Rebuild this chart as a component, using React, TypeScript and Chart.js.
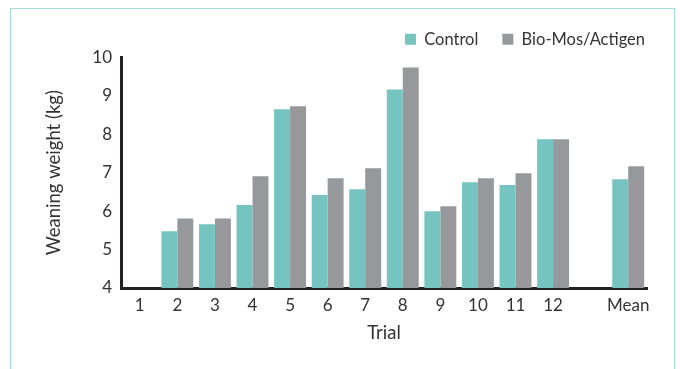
import React, { useEffect, useRef } from "react";
import { Chart, registerables } from "chart.js";

Chart.register(...registerables);

const categories = ["1", "2", "3", "4", "5", "6", "7", "8", "9", "10", "11", "12", "", "Mean"];
const controlValues: (number | null)[] = [null, 5.48, 5.66, 6.16, 8.65, 6.42, 6.57, 9.17, 6.0, 6.75, 6.68, 7.87, null, 6.83];
const bioMosValues: (number | null)[] = [null, 5.81, 5.81, 6.91, 8.73, 6.86, 7.12, 9.74, 6.13, 6.86, 6.99, 7.87, null, 7.17];
const seriesNames = ["Control", "Bio-Mos/Actigen"];
const yTicks = [4, 5, 6, 7, 8, 9, 10];

const FONT = "Lato, 'Noto Sans', sans-serif";
const TEXT = "#333333";

export default function App() {
  const ref = useRef<HTMLCanvasElement | null>(null);

  useEffect(() => {
    if (!ref.current) return;
    const legendShift = {
      id: "legendShift",
      afterLayout(chart: any) {
        if (chart.legend) {
          chart.legend.left += 22;
          chart.legend.right += 22;
        }
      },
    };
    const chart = new Chart(ref.current, {
      type: "bar",
      data: {
        labels: categories,
        datasets: [
          {
            label: seriesNames[0],
            data: controlValues,
            backgroundColor: "#76C4BF",
            categoryPercentage: 0.85,
            barPercentage: 1.0,
          },
          {
            label: seriesNames[1],
            data: bioMosValues,
            backgroundColor: "#97989C",
            categoryPercentage: 0.85,
            barPercentage: 1.0,
          },
        ],
      },
      options: {
        responsive: false,
        animation: false,
        devicePixelRatio: 1,
        layout: { padding: { top: 7, right: 33, left: 0, bottom: 0 } },
        plugins: {
          legend: {
            display: true,
            position: "top",
            align: "end",
            labels: {
              boxWidth: 11,
              boxHeight: 11,
              padding: 24,
              color: TEXT,
              font: { family: FONT, size: 16.5 },
            },
          },
          tooltip: { enabled: false },
        },
        scales: {
          x: {
            grid: { display: false, drawTicks: false },
            border: { display: true, color: "#231F20", width: 3 },
            ticks: {
              color: TEXT,
              font: { family: FONT, size: 17 },
              padding: 7,
              maxRotation: 0,
              autoSkip: false,
            },
            title: {
              display: true,
              text: "Trial",
              color: TEXT,
              font: { family: FONT, size: 18.5 },
              padding: { top: 0, bottom: 25 },
            },
            afterFit(scale: any) {
              scale.height = 81;
            },
          },
          y: {
            min: 4,
            max: 10,
            grid: { display: false, drawTicks: false },
            border: { display: true, color: "#231F20", width: 3 },
            afterBuildTicks(scale: any) {
              scale.ticks = yTicks.map((v) => ({ value: v }));
            },
            ticks: {
              color: TEXT,
              font: { family: FONT, size: 17 },
              padding: 9,
            },
            title: {
              display: true,
              text: "Weaning weight (kg)",
              color: TEXT,
              font: { family: FONT, size: 18.5 },
              padding: { top: 43, bottom: 0 },
            },
            afterFit(scale: any) {
              scale.width = 121;
            },
          },
        },
      },
      plugins: [legendShift],
    });
    return () => chart.destroy();
  }, []);

  return (
    <div style={{ position: "fixed", left: 0, top: 0, width: 680, height: 369, background: "#fff", overflow: "hidden" }}>
      <div
        style={{
          position: "absolute",
          left: 10,
          top: 8,
          width: 665,
          height: 420,
          border: "1.5px solid #A6DCD9",
          boxSizing: "border-box",
        }}
      />
      <canvas ref={ref} width={680} height={369} style={{ position: "absolute", left: 0, top: 0, width: 680, height: 369 }} />
    </div>
  );
}
